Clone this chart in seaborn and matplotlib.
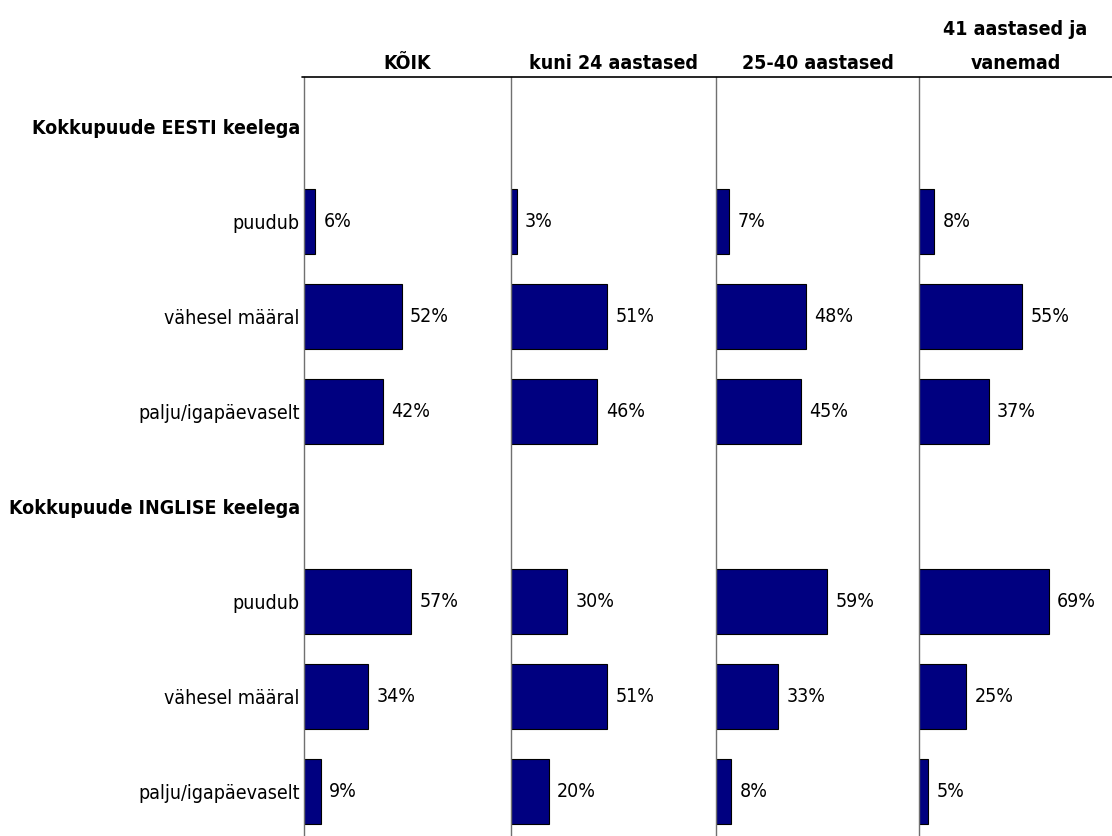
import numpy as np
import pandas as pd
import matplotlib
matplotlib.use("Agg")
import matplotlib.pyplot as plt
from matplotlib.lines import Line2D
import seaborn as sns

# row keys (order top->bottom) and their shown labels
row_keys = ["h_eesti", "e_puudub", "e_vahe", "e_palju",
            "h_inglise", "i_puudub", "i_vahe", "i_palju"]
row_labels = ["Kokkupuude EESTI keelega", "puudub", "vähesel määral", "palju/igapäevaselt",
              "Kokkupuude INGLISE keelega", "puudub", "vähesel määral", "palju/igapäevaselt"]
header_rows = ["h_eesti", "h_inglise"]
data_rows = ["e_puudub", "e_vahe", "e_palju", "i_puudub", "i_vahe", "i_palju"]

groups = ["KÕIK", "kuni 24 aastased", "25-40 aastased", "41 aastased ja\nvanemad"]
vals_koik = [6, 52, 42, 57, 34, 9]
vals_kuni24 = [3, 51, 46, 30, 51, 20]
vals_25_40 = [7, 48, 45, 59, 33, 8]
vals_41 = [8, 55, 37, 69, 25, 5]
all_vals = [vals_koik, vals_kuni24, vals_25_40, vals_41]

df = pd.concat([pd.DataFrame({"group": g, "row": data_rows, "pct": v})
                for g, v in zip(groups, all_vals)], ignore_index=True)

sns.set_theme(style="white")
plt.rcParams['font.family'] = ['DejaVu Sans']
plt.rcParams['font.stretch'] = 'condensed'
plt.rcParams['text.color'] = 'black'
plt.rcParams['ytick.color'] = 'black'
plt.rcParams['axes.titlecolor'] = 'black'

W, H = 1112, 836
fig = plt.figure(figsize=(W / 100, H / 100), dpi=100)

lefts = [304, 511, 716, 919]
rights = [511, 716, 919, 1112]
top = 77
for k, g in enumerate(groups):
    ax = fig.add_axes([lefts[k] / W, 0, (rights[k] - lefts[k]) / W, 1 - top / H])
    sub = df[df["group"] == g]
    sns.barplot(data=sub, x="pct", y="row", order=row_keys, orient="h",
                color="#000080", saturation=1, width=0.68,
                edgecolor="black", linewidth=0.8, ax=ax)
    ax.set_xlim(0, (rights[k] - lefts[k]) / 1.88)
    ax.set_ylim(7.47, -0.52)
    ax.bar_label(ax.containers[0], fmt="%g%%", padding=6, fontsize=14)
    for s in ["top", "right", "bottom"]:
        ax.spines[s].set_visible(False)
    ax.spines["left"].set_color("#707070")
    ax.spines["left"].set_linewidth(1)
    ax.set_xticks([])
    ax.set_xlabel("")
    ax.set_ylabel("")
    ax.set_title(g, fontsize=14, fontweight="bold", pad=6, linespacing=2.0)
    if k == 0:
        ax.set_yticks(range(len(row_keys)))
        ax.set_yticklabels(row_labels, fontsize=14)
        ax.tick_params(axis="y", length=0, pad=3)
        for lab, key in zip(ax.get_yticklabels(), row_keys):
            if key in header_rows:
                lab.set_fontweight("bold")
    else:
        ax.set_yticks([])

fig.add_artist(Line2D([302 / W, 1], [1 - top / H, 1 - top / H], color="black", lw=1.2))

fig.savefig("out.png", dpi=100)
